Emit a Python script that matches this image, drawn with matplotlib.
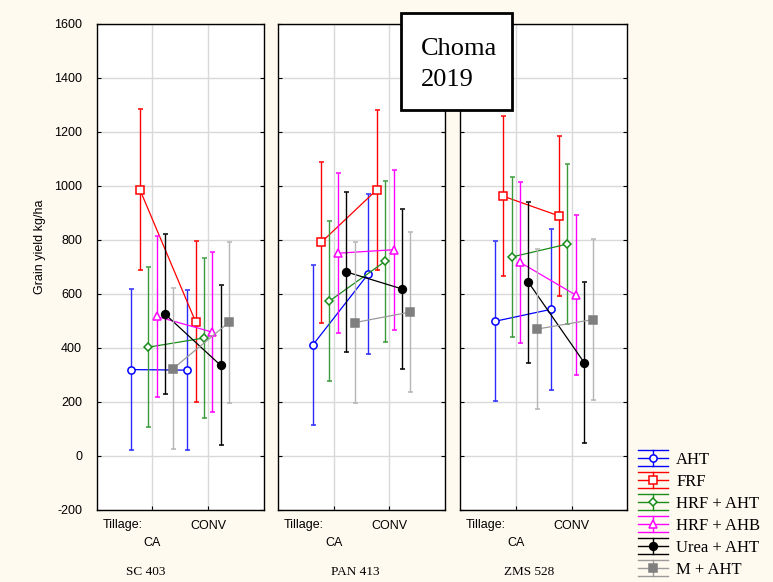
import matplotlib
matplotlib.use('Agg')
import matplotlib.pyplot as plt
from matplotlib.lines import Line2D
from matplotlib.patches import Rectangle
from matplotlib.legend_handler import HandlerBase

plt.rcParams['font.family'] = ['Liberation Sans', 'DejaVu Sans']
plt.rcParams['axes.unicode_minus'] = False

treatments = ['AHT', 'FRF', 'HRF + AHT', 'HRF + AHB', 'Urea + AHT', 'M + AHT']
tillage = ['CA', 'CONV']
varieties = ['SC 403', 'PAN 413', 'ZMS 528']

# mean grain yield (kg/ha), [CA, CONV] for each treatment
sc403 = [[320, 318], [987, 498], [403, 437], [517, 459], [526, 336], [324, 495]]
pan413 = [[411, 675], [791, 986], [574, 721], [751, 764], [682, 619], [494, 533]]
zms528 = [[499, 543], [962, 889], [737, 785], [717, 596], [643, 346], [470, 505]]
ci_half = [297, 297, 297, 297, 297, 297]  # +/- interval

styles = [
	dict(color='#0000ff', marker='o', mfc='white', mec='#0000ff', ms=5.2, ecolor='#2a2aff'),
	dict(color='#ff0000', marker='s', mfc='white', mec='#ff0000', ms=5.2, ecolor='#ff0000'),
	dict(color='#1a8c1a', marker='D', mfc='white', mec='#1a8c1a', ms=3.8, ecolor='#3a9a3a'),
	dict(color='#ff00ff', marker='^', mfc='white', mec='#ff00ff', ms=5.8, ecolor='#ff00ff'),
	dict(color='black', marker='o', mfc='black', mec='black', ms=5.6, ecolor='black'),
	dict(color='#9a9a9a', marker='s', mfc='#7f7f7f', mec='#7f7f7f', ms=5.4, ecolor='#b5b5b5'),
]
offsets = [-0.375, -0.225, -0.075, 0.075, 0.225, 0.375]


class HandlerErrLine(HandlerBase):
	# legend key: line, two full-width caps, vertical bar and marker
	def create_artists(self, legend, orig, xdescent, ydescent, width, height, fontsize, trans):
		col = orig.get_color()
		ym = height / 2 - ydescent
		xm = width / 2 - xdescent
		e = height * 0.72
		x0, x1 = -xdescent, width - xdescent
		arts = [Line2D([x0, x1], [ym, ym], color=col, lw=1),
				Line2D([x0, x1], [ym + e, ym + e], color=col, lw=1),
				Line2D([x0, x1], [ym - e, ym - e], color=col, lw=1),
				Line2D([xm, xm], [ym - e, ym + e], color=col, lw=1),
				Line2D([xm], [ym], marker=orig.get_marker(), ms=orig.get_markersize(),
					   mfc=orig.get_markerfacecolor(), mec=orig.get_markeredgecolor(),
					   mew=orig.get_markeredgewidth(), linestyle='none')]
		for a in arts:
			a.set_transform(trans)
		return arts


W, H = 773, 582
fig = plt.figure(figsize=(W / 100, H / 100), dpi=100, facecolor='#fffaf0')

lefts = [96.7, 278, 460.3]
name_x = [146, 355, 529]
for k, data in enumerate([sc403, pan413, zms528]):
	ax = fig.add_axes([lefts[k] / W, (H - 510) / H, 167 / W, 486 / H])
	for i in range(len(treatments)):
		st = styles[i]
		xs = [1 + offsets[i], 2 + offsets[i]]
		ax.errorbar(xs, data[i], yerr=ci_half[i], color=st['color'], marker=st['marker'],
					mfc=st['mfc'], mec=st['mec'], ms=st['ms'], mew=1.1, ecolor=st['ecolor'],
					lw=0.9, elinewidth=1, capsize=1.8, capthick=1, zorder=3 + i)
	ax.set_xlim(0, 3)
	ax.set_ylim(-200, 1600)
	ax.set_yticks(range(-200, 1601, 200))
	ax.set_xticks([1, 2])
	ax.set_xticklabels(['\n' + tillage[0], tillage[1]])
	for t in ax.get_xticklabels():
		t.set_linespacing(1.6)
	ax.grid(True, color='#d9d9d9', lw=1)
	ax.set_axisbelow(True)
	ax.tick_params(axis='y', direction='in', left=True, right=True, length=3, labelsize=9, pad=10.5)
	ax.tick_params(axis='x', direction='in', bottom=True, top=False, length=3, labelsize=9, pad=7)
	if k > 0:
		ax.tick_params(axis='y', labelleft=False)
	for sp in ax.spines.values():
		sp.set_linewidth(1)
	fig.text((lefts[k] + 5.6) / W, 1 - 525 / H, 'Tillage:', fontsize=9, ha='left', va='center')
	fig.text(name_x[k] / W, 1 - 572 / H, varieties[k], fontsize=9.5, ha='center', va='center',
			 family='Liberation Serif')

fig.text(40 / W, 1 - 247 / H, 'Grain yield kg/ha', rotation=90, fontsize=9, ha='center', va='center')

# title box
fig.add_artist(Rectangle((401 / W, 1 - 110 / H), 111 / W, 97 / H, transform=fig.transFigure,
						 fc='white', ec='black', lw=2, zorder=10))
fig.text(421 / W, 1 - 55 / H, 'Choma', fontsize=19, family='Liberation Serif', va='baseline', zorder=11)
fig.text(421 / W, 1 - 86 / H, '2019', fontsize=19, family='Liberation Serif', va='baseline', zorder=11)

handles = [Line2D([], [], color=st['color'], marker=st['marker'], mfc=st['mfc'], mec=st['mec'],
				  ms=st['ms'], mew=1.1) for st in styles]
fig.legend(handles, treatments, loc='upper left', bbox_to_anchor=(638 / W, 1 - 452 / H),
		   frameon=False, prop=dict(family='Liberation Serif', size=12),
		   handler_map={Line2D: HandlerErrLine()}, handlelength=1.8, handleheight=0.68,
		   handletextpad=0.5, labelspacing=0.36, borderpad=0, borderaxespad=0)

plt.savefig('out.png', dpi=100, facecolor=fig.get_facecolor())
